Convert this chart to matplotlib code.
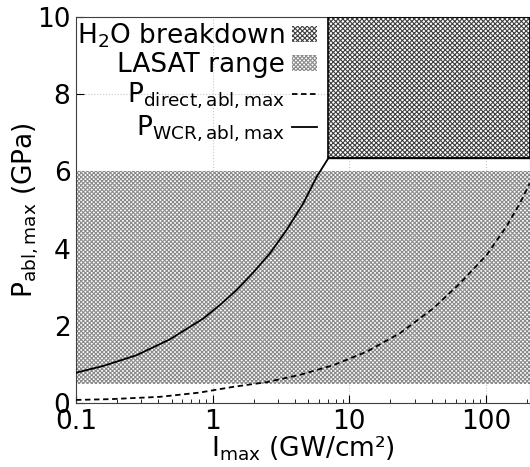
# ablation pressure vs peak intensity, direct vs water-confined regime
import matplotlib
matplotlib.use('Agg')
import matplotlib.pyplot as plt
from matplotlib.patches import Rectangle

# values
i_wcr = [0.1, 0.158, 0.278, 0.487, 0.855, 1.13, 1.50, 1.98, 2.63, 3.47, 4.60, 5.77, 7.02, 210]
p_wcr = [0.785, 0.96, 1.24, 1.65, 2.19, 2.54, 2.93, 3.38, 3.88, 4.48, 5.17, 5.86, 6.34, 6.34]

i_direct = [0.1, 0.177, 0.41, 0.80, 1.42, 2.48, 4.35, 7.64, 13.4, 23.5, 41.1, 64.5, 101, 141, 177, 209]
p_direct = [0.08, 0.10, 0.16, 0.27, 0.42, 0.54, 0.73, 0.98, 1.33, 1.81, 2.45, 3.10, 3.83, 4.57, 5.17, 5.69]

lasat_range = [0.5, 6.0]
h2o_start = 7.02
h2o_low = 6.34

x_lim = [0.1, 210]
y_lim = [0, 10]
x_ticks = [0.1, 1, 10, 100]
x_labels = ['0.1', '1', '10', '100']
y_ticks = [0, 2, 4, 6, 8, 10]

plt.rcParams['font.family'] = 'DejaVu Sans'
plt.rcParams['font.size'] = 19
plt.rcParams['hatch.linewidth'] = 0.8

fig = plt.figure(figsize=(5.3, 4.67), dpi=100)
ax = fig.add_axes([0.1434, 0.137, 0.8566, 0.8266])
ax.set_xscale('log')
ax.set_xlim(x_lim)
ax.set_ylim(y_lim)

# LASAT range band over the whole x range
lasat = ax.fill_between(x_lim, lasat_range[0], lasat_range[1], facecolor='white',
                        edgecolor='#8a8a8a', hatch='xxxxxxxx', linewidth=0, zorder=2,
                        label='LASAT range')
# water breakdown region
h2o = Rectangle((h2o_start, h2o_low), x_lim[1] - h2o_start, y_lim[1] - h2o_low,
                facecolor='white', edgecolor='#404040', hatch='xxxxxxx', linewidth=0,
                zorder=2, label='H$_2$O breakdown')
ax.add_patch(h2o)
ax.add_patch(Rectangle((h2o_start, h2o_low), x_lim[1] - h2o_start, y_lim[1] - h2o_low,
                       fill=False, edgecolor='black', linewidth=1.2, zorder=3))

l1, = ax.plot(i_direct, p_direct, color='black', lw=1.3, ls=(0, (3, 2)), zorder=4,
              label=r'P$_{\mathregular{direct,abl,max}}$')
l2, = ax.plot(i_wcr, p_wcr, color='black', lw=1.3, zorder=4,
              label=r'P$_{\mathregular{WCR,abl,max}}$')

ax.set_xticks(x_ticks)
ax.set_xticklabels(x_labels)
ax.set_yticks(y_ticks)
ax.grid(True, which='major', color='#c8c8c8', ls=':', lw=0.8)
ax.set_axisbelow(True)
ax.tick_params(which='both', direction='in', pad=4)
ax.tick_params(which='major', length=6)
ax.tick_params(which='minor', length=3)
for s in ax.spines.values():
    s.set_color('#404040')

ax.set_xlabel(r'I$_{\mathregular{max}}$ (GW/cm²)', labelpad=0)
ax.set_ylabel(r'P$_{\mathregular{abl,max}}$ (GPa)')
ax.yaxis.set_label_coords(-0.078, 0.5)

ax.legend(handles=[h2o, lasat, l1, l2], loc='upper right', bbox_to_anchor=(0.565, 1.03),
          frameon=False, markerfirst=False, handlelength=0.95, handleheight=0.6,
          handletextpad=0.25, labelspacing=0.1, borderpad=0.1)

fig.savefig('out.png', dpi=100)
